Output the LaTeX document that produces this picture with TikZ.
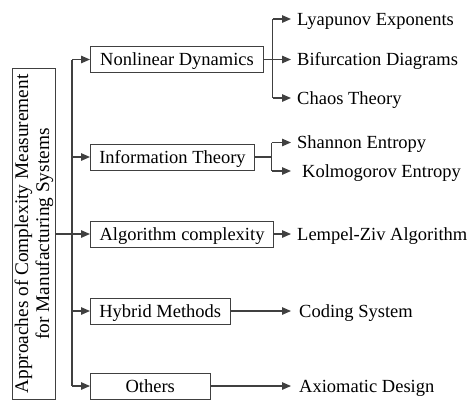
\documentclass[tikz,border=0pt]{standalone}
\usepackage{fontspec}
\setmainfont{Liberation Serif}
\usetikzlibrary{arrows.meta}
\definecolor{ln}{RGB}{64,64,64}
\tikzset{
  box/.style={draw=ln,line width=1bp,font=\fontsize{18.5bp}{20bp}\selectfont,text height=12.4bp,text depth=0pt,minimum height=26bp,inner sep=0pt,anchor=west},
  leaf/.style={font=\fontsize{18.5bp}{20bp}\selectfont,text height=12.4bp,text depth=0pt,inner sep=0pt,anchor=west},
  conn/.style={draw=ln,line width=1.3bp},
  arr/.style={conn,-{Triangle[length=9bp,width=7.5bp]}}
}
\begin{document}
\begin{tikzpicture}[x=1bp,y=-1bp]
\useasboundingbox (0,0) rectangle (468,400);
% main box
\node[draw=ln,line width=1bp,rotate=90,minimum width=331bp,minimum height=43.5bp,inner sep=0pt,align=center,
  font=\fontsize{19.3bp}{21bp}\selectfont] (main) at (34,234) {Approaches of Complexity Measurement\\for Manufacturing Systems};
% category boxes
\node[box,minimum width=173bp] (nd) at (90,59.5) {Nonlinear Dynamics};
\node[box,minimum width=164bp] (it) at (90,157) {Information Theory};
\node[box,minimum width=183bp] (ac) at (90,234) {Algorithm complexity};
\node[box,minimum width=139.5bp] (hm) at (90,311) {Hybrid Methods};
\node[box,minimum width=119.5bp] (ot) at (90,386) {Others};
% leaves
\node[leaf] (l1) at (297,19) {Lyapunov Exponents};
\node[leaf] (l2) at (297,59.5) {Bifurcation Diagrams};
\node[leaf] (l3) at (297,98) {Chaos Theory};
\node[leaf] (s1) at (297,142.5) {Shannon Entropy};
\node[leaf] (s2) at (302,171) {Kolmogorov Entropy};
\node[leaf] (lz) at (297,234) {Lempel-Ziv Algorithm};
\node[leaf] (cs) at (299,311) {Coding System};
\node[leaf] (ad) at (299,386) {Axiomatic Design};
% helper coordinates
\coordinate (tk) at (72,0);
\coordinate (b1) at (272.5,0);
\coordinate (b2) at (271.5,0);
\coordinate (tip) at (291,0);
% trunk
\draw[conn] (tk|-nd.west) -- (tk|-ot.west);
\foreach \n in {nd,it,hm,ot} \draw[arr] (tk|-\n.west) -- (\n.west);
\draw[arr] (main.south |- ac.west) -- (ac.west);
% nonlinear dynamics
\draw[conn] (nd.east) -- (b1|-nd.east);
\draw[conn] (b1|-l1.west) -- (b1|-l3.west);
\foreach \n in {l1,l2,l3} \draw[arr] (b1|-\n.west) -- (tip|-\n.west);
% information theory
\draw[conn] (it.east) -- (b2|-it.east);
\draw[conn] (b2|-s1.west) -- (b2|-s2.west);
\foreach \n in {s1,s2} \draw[arr] (b2|-\n.west) -- (tip|-\n.west);
% single leaves
\draw[arr] (ac.east) -- (tip|-lz.west);
\draw[arr] (hm.east) -- (tip|-cs.west);
\draw[arr] (ot.east) -- (tip|-ad.west);
\end{tikzpicture}
\end{document}
